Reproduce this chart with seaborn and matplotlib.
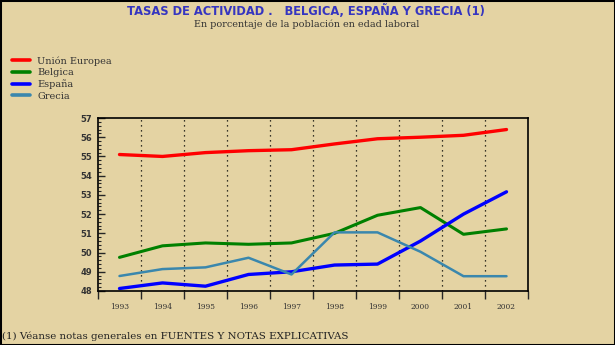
import numpy as np
import pandas as pd
import seaborn as sns
import matplotlib
matplotlib.use("Agg")
import matplotlib.pyplot as plt
from matplotlib.patches import Rectangle
from matplotlib.ticker import MultipleLocator, FixedLocator, NullFormatter

# data
years = [1993, 1994, 1995, 1996, 1997, 1998, 1999, 2000, 2001, 2002]
union_europea = [55.1, 55.0, 55.2, 55.3, 55.35, 55.65, 55.92, 56.0, 56.1, 56.4]
belgica = [49.75, 50.35, 50.5, 50.43, 50.5, 51.0, 51.94, 52.34, 50.95, 51.23]
espana = [48.13, 48.42, 48.25, 48.86, 49.0, 49.35, 49.4, 50.6, 52.0, 53.16]
grecia = [48.78, 49.14, 49.23, 49.73, 48.86, 51.05, 51.05, 50.04, 48.77, 48.77]

series = {"Unión Europea": union_europea, "Belgica": belgica,
          "España": espana, "Grecia": grecia}
colors = {"Unión Europea": "#ff0000", "Belgica": "#008000",
          "España": "#0000ff", "Grecia": "#3a87ad"}
widths = {"Unión Europea": 2.4, "Belgica": 2.2, "España": 2.4, "Grecia": 1.8}

df = pd.concat([pd.DataFrame({"year": years, "value": v, "serie": k})
                for k, v in series.items()], ignore_index=True)

bg = "#e4d3a3"
sns.set_style("ticks")
plt.rcParams["font.family"] = ["DejaVu Sans"]

fig = plt.figure(figsize=(6.15, 3.45), dpi=100, facecolor=bg)
ax = fig.add_axes([98/615, 1-291/345, 430/615, 173/345])
ax.set_facecolor(bg)

for name in series:
    sns.lineplot(data=df[df.serie == name], x="year", y="value", color=colors[name],
                 linewidth=widths[name], label=name, ax=ax)

ax.set_xlim(1992.5, 2002.5)
ax.set_ylim(48, 57)

# dotted separators between years
for b in np.arange(1993.5, 2002.5, 1):
    ax.axvline(b, color="black", linestyle=(0, (1, 3)), linewidth=0.9, zorder=0)

ax.xaxis.set_major_locator(FixedLocator(np.arange(1992.5, 2003, 1)))
ax.xaxis.set_major_formatter(NullFormatter())
ax.xaxis.set_minor_locator(FixedLocator(years))
ax.set_xticklabels([str(y) for y in years], minor=True, family="DejaVu Serif",
                   fontsize=5.4, color="#333333")
ax.tick_params(axis="x", which="major", direction="out", length=6, width=1)
ax.tick_params(axis="x", which="minor", length=0, pad=8.5)

ax.yaxis.set_major_locator(MultipleLocator(1))
ax.yaxis.set_minor_locator(MultipleLocator(0.2))
ax.tick_params(axis="y", which="major", direction="in", length=5, width=1,
               labelsize=6, labelcolor="#333333", pad=4)
ax.tick_params(axis="y", which="minor", direction="in", length=2.5, width=0.8)
for lbl in ax.get_yticklabels():
    lbl.set_fontweight("bold")

for s in ax.spines.values():
    s.set_linewidth(1.2)
    s.set_color("black")
ax.set_xlabel("")
ax.set_ylabel("")

leg = ax.legend(loc="upper left", bbox_to_anchor=(12/615, 1-56/345),
                bbox_transform=fig.transFigure, frameon=False,
                prop={"family": "DejaVu Serif", "size": 7},
                handlelength=1.9, handletextpad=0.7, labelspacing=0.26,
                borderpad=0, borderaxespad=0)
for t in leg.get_texts():
    t.set_color("#333333")
for h in leg.get_lines():
    h.set_linewidth(2.6)

fig.text(306/615, 1-11/345, "TASAS DE ACTIVIDAD .   BELGICA, ESPAÑA Y GRECIA (1)",
         ha="center", va="center", fontsize=8.3, fontweight="bold", color="#3535c0")
fig.text(307/615, 1-24/345, "En porcentaje de la población en edad laboral",
         ha="center", va="center", fontsize=6.9, family="DejaVu Serif", color="#333333")
fig.text(2/615, 1-336/345, "(1) Véanse notas generales en FUENTES Y NOTAS EXPLICATIVAS",
         ha="left", va="center", fontsize=7.4, family="DejaVu Serif", color="#222222")

fig.patches.append(Rectangle((0, 0), 1, 1, transform=fig.transFigure, fill=False,
                             edgecolor="black", linewidth=2.2))

fig.savefig("out.png", dpi=100, facecolor=bg)
